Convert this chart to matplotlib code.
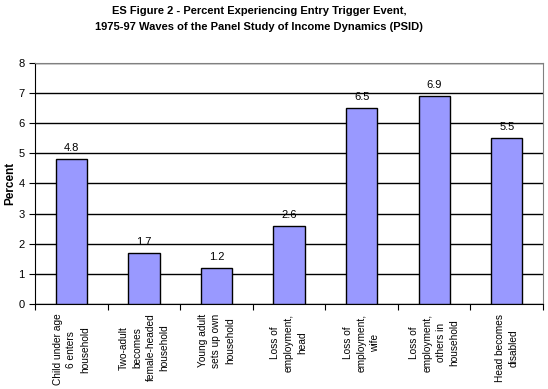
import matplotlib.pyplot as plt
import numpy as np

plt.rcParams['font.family'] = ['Liberation Sans', 'DejaVu Sans']

categories = [
    "Child under age\n6 enters\nhousehold",
    "Two-adult\nbecomes\nfemale-headed\nhousehold",
    "Young adult\nsets up own\nhousehold",
    "Loss of\nemployment,\nhead",
    "Loss of\nemployment,\nwife",
    "Loss of\nemployment,\nothers in\nhousehold",
    "Head becomes\ndisabled",
]
values = [4.8, 1.7, 1.2, 2.6, 6.5, 6.9, 5.5]

fig = plt.figure(figsize=(5.48, 3.89), dpi=100)
ax = fig.add_axes([0.064, 0.2185, 0.927, 0.62])

x = np.arange(len(values))
ax.bar(x, values, width=0.43, color='#9999ff', edgecolor='black', linewidth=1, zorder=3)
for xi, v in zip(x, values):
    ax.text(xi, v + 0.2, f"{v}", ha='center', va='bottom', fontsize=8)

ax.set_xlim(-0.5, len(values) - 0.5)
ax.set_ylim(0, 8)
ax.set_yticks(range(0, 9))
ax.yaxis.grid(True, color='black', linewidth=1, zorder=0)
fig.text(0.019, 0.5285, "Percent", fontsize=8.5, fontweight='bold',
         rotation=90, ha='center', va='center')

ax.set_xticks(np.arange(-0.5, len(values), 1))
ax.set_xticklabels([])
ax.set_xticks(x, minor=True)
ax.set_xticklabels(categories, minor=True, rotation=90, fontsize=7.3,
                   va='top', ha='center', multialignment='center',
                   linespacing=1.45)
ax.tick_params(axis='x', which='minor', length=0, pad=7)
ax.tick_params(axis='x', which='major', length=4, direction='out')
ax.tick_params(axis='y', length=4, direction='out', labelsize=8)

for s in ['top', 'right']:
    ax.spines[s].set_color('gray')
for s in ['left', 'bottom']:
    ax.spines[s].set_color('black')

fig.text(0.473, 0.985,
         "ES Figure 2 - Percent Experiencing Entry Trigger Event,\n"
         "1975-97 Waves of the Panel Study of Income Dynamics (PSID)",
         fontsize=8, fontweight='bold', ha='center', va='top', linespacing=1.75)

fig.savefig("out.png", dpi=100)
